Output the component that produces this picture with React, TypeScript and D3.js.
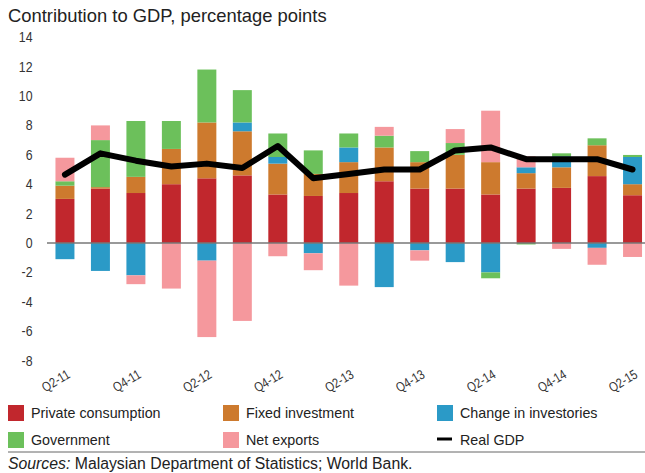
import React from "react";
import * as d3 from "d3";

const quarters = ["Q2-11", "Q3-11", "Q4-11", "Q1-12", "Q2-12", "Q3-12", "Q4-12", "Q1-13", "Q2-13", "Q3-13", "Q4-13", "Q1-14", "Q2-14", "Q3-14", "Q4-14", "Q1-15", "Q2-15"];
const privateConsumption = [3.0, 3.7, 3.4, 4.0, 4.4, 4.6, 3.3, 3.2, 3.4, 4.2, 3.7, 3.7, 3.3, 3.7, 3.75, 4.55, 3.25];
const fixedInvestment = [0.9, 0.1, 1.1, 2.4, 3.8, 3.0, 2.1, 1.5, 2.1, 2.3, 1.8, 2.3, 2.2, 1.05, 1.4, 2.1, 0.75];
const changeInInventories = [-1.1, -1.9, -2.2, 0, -1.2, 0.6, 0.45, -0.7, 1.0, -3.0, -0.5, -1.3, -2.0, 0.4, 0.75, -0.33, 1.85];
const government = [0.3, 3.2, 3.8, 1.9, 3.6, 2.2, 1.6, 1.6, 0.95, 0.8, 0.75, 0.8, -0.4, -0.1, 0.2, 0.47, 0.14];
const netExports = [1.6, 1.0, -0.6, -3.1, -5.2, -5.3, -0.9, -1.15, -2.9, 0.6, -0.7, 0.95, 3.5, 0.75, -0.4, -1.15, -0.95];
const realGDP = [4.65, 6.1, 5.6, 5.2, 5.4, 5.1, 6.6, 4.4, 4.7, 5.0, 5.0, 6.3, 6.5, 5.7, 5.7, 5.7, 5.0];
const yTicks = [-8, -6, -4, -2, 0, 2, 4, 6, 8, 10, 12, 14];

const seriesKeys = ["private", "fixed", "inventories", "government", "netExports"];
const seriesColors: Record<string, string> = {
    private: "#c1272d",
    fixed: "#cd7a2e",
    inventories: "#2b9ac7",
    government: "#6cc05b",
    netExports: "#f5989d",
};

const regular = "'Liberation Sans', Arial, sans-serif";

export default function App() {
    const width = 645;
    const height = 473;

    const rows = quarters.map((q, i) => ({
        quarter: q,
        private: privateConsumption[i],
        fixed: fixedInvestment[i],
        inventories: changeInInventories[i],
        government: government[i],
        netExports: netExports[i],
    }));

    const xScale = d3
        .scaleBand<string>()
        .domain(quarters)
        .range([50.5, 647])
        .paddingInner(0.465)
        .paddingOuter(0.14);

    const yScale = d3.scaleLinear().domain([-8, 14]).range([360.6, 37.2]);

    const stacked = d3
        .stack<any>()
        .keys(seriesKeys)
        .offset(d3.stackOffsetDiverging)(rows);

    const line = d3
        .line<number>()
        .x((d, i) => (xScale(quarters[i]) as number) + xScale.bandwidth() / 2)
        .y((d) => yScale(d));

    const legendItems = [
        { label: "Private consumption", key: "private", x: 8, y: 405 },
        { label: "Fixed investment", key: "fixed", x: 223, y: 405 },
        { label: "Change in investories", key: "inventories", x: 437, y: 405 },
        { label: "Government", key: "government", x: 8, y: 432 },
        { label: "Net exports", key: "netExports", x: 223, y: 432 },
    ];

    return (
        <svg width={width} height={height} style={{ position: "absolute", left: 0, top: 0 }}>
            <rect width={width} height={height} fill="#fff" />
            <text x={8} y={21.5} fontFamily={regular} fontSize={18.4} fill="#222">
                Contribution to GDP, percentage points
            </text>

            {/* y tick labels, squeezed to look condensed */}
            {yTicks.map((t) => (
                <text
                    key={t}
                    transform={`translate(32.5, ${yScale(t)}) scale(0.88, 1)`}
                    dy="0.36em"
                    textAnchor="end"
                    fontFamily={regular}
                    fontSize={14}
                    fill="#333"
                >
                    {t}
                </text>
            ))}

            {/* stacked bars */}
            {stacked.map((s) => (
                <g key={s.key} fill={seriesColors[s.key]}>
                    {s.map((d, i) => {
                        const y0 = yScale(d[0]);
                        const y1 = yScale(d[1]);
                        return (
                            <rect
                                key={i}
                                x={xScale(quarters[i])}
                                y={Math.min(y0, y1)}
                                width={xScale.bandwidth()}
                                height={Math.abs(y0 - y1)}
                            />
                        );
                    })}
                </g>
            ))}

            {/* zero line */}
            <line x1={47} x2={645} y1={yScale(0)} y2={yScale(0)} stroke="#777" strokeWidth={1.5} />

            {/* real GDP */}
            <path d={line(realGDP) as string} fill="none" stroke="#000" strokeWidth={6} strokeLinejoin="round" strokeLinecap="round" />

            {/* x labels */}
            {quarters.map((q, i) =>
                i % 2 === 0 ? (
                    <text
                        key={q}
                        transform={`translate(${(xScale(q) as number) + xScale.bandwidth() / 2 + 6}, 377) rotate(-31) scale(0.82, 1)`}
                        textAnchor="end"
                        fontFamily={regular}
                        fontSize={13.5}
                        fill="#333"
                    >
                        {q}
                    </text>
                ) : null
            )}

            {/* legend */}
            {legendItems.map((it) => (
                <g key={it.key}>
                    <rect x={it.x} y={it.y} width={16} height={16} fill={seriesColors[it.key]} />
                    <text x={it.x + 23} y={it.y + 13} fontFamily={regular} fontSize={14.3} fill="#222">
                        {it.label}
                    </text>
                </g>
            ))}
            <line x1={437} x2={452} y1={439} y2={439} stroke="#000" strokeWidth={3} />
            <text x={460} y={445} fontFamily={regular} fontSize={14.3} fill="#222">
                Real GDP
            </text>

            <line x1={8} x2={645} y1={452} y2={452} stroke="#666" strokeWidth={1} />
            <text x={8} y={469} fontFamily={regular} fontSize={15.8} fill="#222">
                <tspan fontStyle="italic">Sources:</tspan> Malaysian Department of Statistics; World Bank.
            </text>
        </svg>
    );
}
